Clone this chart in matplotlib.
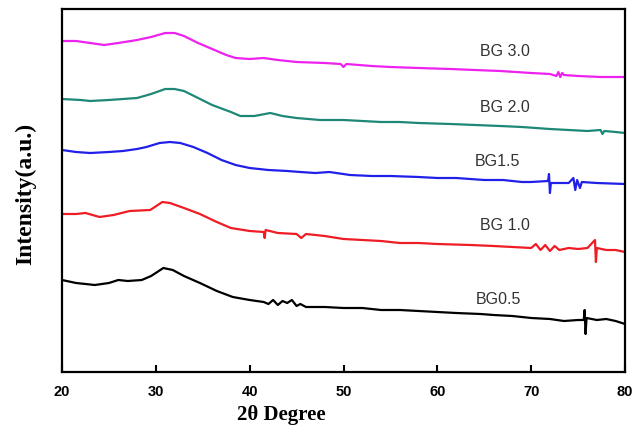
import matplotlib.pyplot as plt

# XRD patterns (2theta, intensity in arbitrary units)
x05 = [20, 21.5, 23.5, 25, 26, 27, 28.5, 29.5, 30.8, 31.8, 33, 34.7, 36.5, 38.2, 40, 41.5,
       42, 42.5, 43, 43.5, 44, 44.5, 45, 45.4, 46, 48, 50, 52, 54, 56, 58, 60, 62, 64.6,
       66, 68, 70, 72, 73.5, 75, 75.6, 75.7, 75.8, 75.9, 77, 78, 79, 80]
y05 = [92, 89, 87, 89, 92, 91, 92, 96, 104, 102, 96, 89, 81, 75, 72, 70,
       68, 72, 67, 71, 69, 72, 66, 68, 65, 65, 64, 64, 62, 62, 61, 60, 59, 58,
       57, 56, 54, 53, 51, 52, 52, 62, 38, 54, 52, 53, 51, 48]

x10 = [20, 21.5, 22.5, 24, 25.5, 27.2, 29.4, 30.7, 31.5, 33, 34.7, 36.5, 38, 40, 41.5, 41.6,
       41.7, 43, 45, 45.5, 46, 48, 50, 52, 54, 56, 58, 60, 63.5, 66, 68, 70, 70.5, 71,
       71.5, 72, 72.5, 73, 74, 75, 76, 76.8, 76.9, 77, 78, 79, 80]
y10 = [158, 158, 159, 155, 157, 161, 162, 170, 169, 164, 158, 150, 144, 141, 140, 134,
       142, 139, 138, 134, 138, 136, 133, 132, 131, 129, 129, 128, 127, 126, 125, 124, 128, 122,
       127, 121, 126, 122, 124, 123, 124, 132, 110, 124, 122, 122, 120]

x15 = [20, 21.5, 23, 25, 26.5, 28, 29, 30.4, 31.5, 32.6, 34, 35.5, 37, 38.5, 40, 42, 44,
       45.4, 47, 48.5, 50.7, 53, 55, 58, 60, 62, 65, 67, 69, 70, 71.8, 71.9, 72.0, 72.1,
       73, 74, 74.5, 74.7, 74.9, 75.2, 75.4, 77, 80]
y15 = [222, 220, 219, 220, 221, 223, 225, 229, 230, 229, 225, 219, 212, 207, 204, 202, 201,
       200, 199, 200, 197, 196, 196, 195, 194, 194, 192, 192, 190, 190, 191, 198, 179, 189,
       189, 189, 194, 182, 192, 184, 190, 189, 188]

x20 = [20, 22, 23, 25, 26.5, 28, 29.5, 31, 32, 33, 34.5, 36, 38, 39, 40.5, 42.2, 43.5, 45,
       47.5, 50, 52, 54, 56, 58, 61.4, 64, 66.7, 69, 72, 74, 76, 77.4, 77.6, 77.8, 79, 80]
y20 = [273, 272, 271, 272, 273, 274, 278, 283, 283, 281, 274, 267, 260, 256, 256, 259, 256, 254,
       252, 252, 251, 250, 250, 249, 248, 247, 246, 245, 243, 242, 241, 242, 238, 241, 240, 239]

x30 = [20, 21.5, 23, 24.5, 26, 28, 29.5, 31, 32, 33, 34.5, 36, 37.5, 38.5, 40, 41.5, 43, 45,
       48, 49.7, 50, 50.3, 53, 55, 58, 61.4, 64, 66.7, 70, 72, 72.7, 72.9, 73.1, 73.3, 73.5,
       75, 77.4, 80]
y30 = [331, 331, 329, 327, 329, 332, 335, 339, 339, 336, 329, 323, 317, 314, 313, 314, 312, 310,
       309, 308, 305, 308, 306, 305, 304, 303, 302, 301, 299, 298, 296, 300, 295, 299, 297,
       296, 295, 295]

names = ['BG0.5', 'BG 1.0', 'BG1.5', 'BG 2.0', 'BG 3.0']
colors = ['black', '#ee1c24', '#2020e8', '#1e8878', '#ee22ee']
label_x = [66.5, 67.2, 66.4, 67.2, 67.2]
label_y = [73, 147, 211, 264, 321]

fig = plt.figure(figsize=(6.36, 4.30), dpi=100)
ax = fig.add_axes([62/636, 58/430, 563/636, 363/430])

series = [(x05, y05), (x10, y10), (x15, y15), (x20, y20), (x30, y30)]
for (xs, ys), c in zip(series, colors):
    ax.plot(xs, ys, color=c, lw=1.6)

for n, lx, ly in zip(names, label_x, label_y):
    ax.text(lx, ly, n, ha='center', va='center', fontsize=11.5, color='#333333',
            family='Liberation Sans')

ax.set_xlim(20, 80)
ax.set_ylim(0, 363)
ax.set_xticks([20, 30, 40, 50, 60, 70, 80])
ax.set_yticks([])
for lab in ax.get_xticklabels():
    lab.set_fontweight('bold')
    lab.set_family('Liberation Sans')
    lab.set_fontsize(10.5)
ax.tick_params(axis='x', direction='in', length=5, width=1.5, pad=9)
for s in ax.spines.values():
    s.set_linewidth(1.6)

ax.set_xlabel('2θ Degree', fontsize=15, fontweight='bold', family='Liberation Serif')
ax.set_ylabel('Intensity(a.u.)', fontsize=17, fontweight='bold', family='Liberation Serif')
ax.xaxis.set_label_coords(0.39, -0.09)
ax.yaxis.set_label_coords(-0.045, 0.49)

plt.savefig('out.png', dpi=100)
